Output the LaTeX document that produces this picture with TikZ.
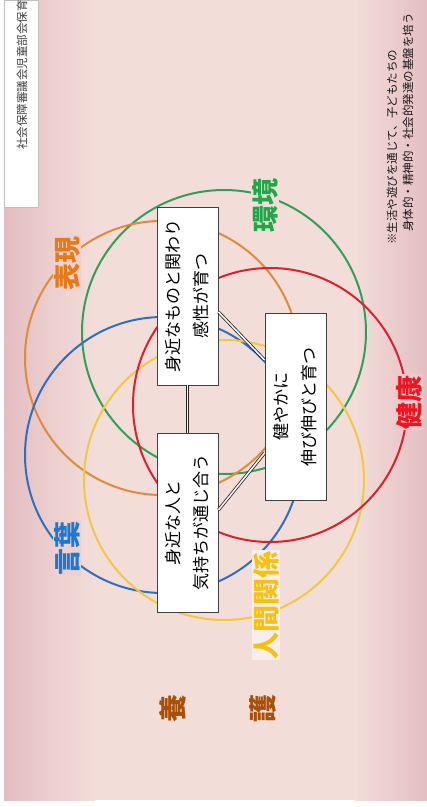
\documentclass[tikz,border=0pt]{standalone}
\usepackage{fontspec}
\newfontfamily\jp{Noto Sans CJK JP}
\usetikzlibrary{calc}
\definecolor{bgc}{HTML}{F2DDD9}
\definecolor{bge}{HTML}{E4BEC1}
\definecolor{cgreen}{HTML}{2FA05A}
\definecolor{cred}{HTML}{DE1F2C}
\definecolor{corange}{HTML}{E08A3C}
\definecolor{cblue}{HTML}{2E6FC0}
\definecolor{cyellow}{HTML}{F2C842}
\definecolor{lgreen}{HTML}{20A848}
\definecolor{lred}{HTML}{F01420}
\definecolor{lorange}{HTML}{E87818}
\definecolor{lblue}{HTML}{1E78D0}
\definecolor{lyellow}{HTML}{F8C010}
\definecolor{brownc}{HTML}{A85008}
\begin{document}
\begin{tikzpicture}[x=1pt,y=-1pt,font=\jp,
  ring/.style={line width=2pt},
  box/.style={draw=black!75,line width=0.9pt,fill=white,rotate=90,align=center,
    font=\jp\fontsize{17}{28}\selectfont,inner sep=0pt},
  lab/.style={rotate=90,font=\jp\bfseries\fontsize{27}{27}\selectfont,inner sep=1pt},
  note/.style={rotate=90,anchor=west,inner sep=0pt,text=black!90,
    font=\jp\fontsize{11.5}{12}\selectfont},
  dbl/.style={draw=black!85,line width=0.8pt,double=white!70!bgc,double distance=1.6pt}]
\useasboundingbox (0,0) rectangle (427,807);
\fill[white] (0,0) rectangle (427,807);
\fill[bgc] (4,0) rectangle (427,800);
\shade[left color=bge,right color=bgc] (4,0) rectangle (95,800);
\shade[left color=bgc,right color=bge] (355,0) rectangle (427,800);
% source box
\node[draw=black!25,fill=white,rotate=90,minimum width=207pt,minimum height=34pt,inner sep=0pt] (src) at (21.5,103.5) {};
\node[note,text=black!75] (srct) at (22,150) {社会保障審議会児童部会保育};
% circles
\draw[ring,cgreen] (224,332) circle[radius=142pt];
\draw[ring,corange] (162,358) circle[radius=137pt];
\draw[ring,cblue] (163,455) circle[radius=138pt];
\draw[ring,cyellow] (224,480) circle[radius=140pt];
\draw[ring,cred] (270,405) circle[radius=137pt];
% boxes
\node[box,minimum width=178pt,minimum height=61pt] (A) at (187.5,296) {身近なものと関わり\\感性が育つ};
\node[box,minimum width=187pt,minimum height=61pt] (B) at (295.5,406.5) {健やかに\\伸び伸びと育つ};
\node[box,minimum width=179pt,minimum height=61pt] (C) at (187.5,522.5) {身近な人と\\気持ちが通じ合う};
% connectors
\draw[dbl] (A) -- (C);
\draw[dbl] ([yshift=-16pt]A.south) -- ([yshift=46.5pt]B.north);
\draw[dbl] ([yshift=12.5pt]C.south) -- ([yshift=-46.5pt]B.north);
% labels
\node[lab,text=lgreen,fill=bgc] (l1) at (265,205) {環境};
\node[lab,text=lorange,fill=bgc!60!bge] (l2) at (67,263) {表現};
\node[lab,text=lred,fill=bgc!40!bge] (l3) at (409,402) {健康};
\node[lab,text=lblue,fill=bgc!60!bge] (l4) at (67,548) {言葉};
\node[lab,text=lyellow,fill=bgc!50!white] (l5) at (266,605) {人間関係};
\node[lab,text=brownc,font=\jp\bfseries\fontsize{28}{28}\selectfont] (y1) at (173,708) {養};
\node[lab,text=brownc,font=\jp\bfseries\fontsize{28}{28}\selectfont] (y2) at (263,708) {護};
% note
\node[note] (n1) at (392,245) {※生活や遊びを通じて、子どもたちの};
\node[note] (n2) at (408,232) {身体的・精神的・社会的発達の基盤を培う};
\end{tikzpicture}
\end{document}
